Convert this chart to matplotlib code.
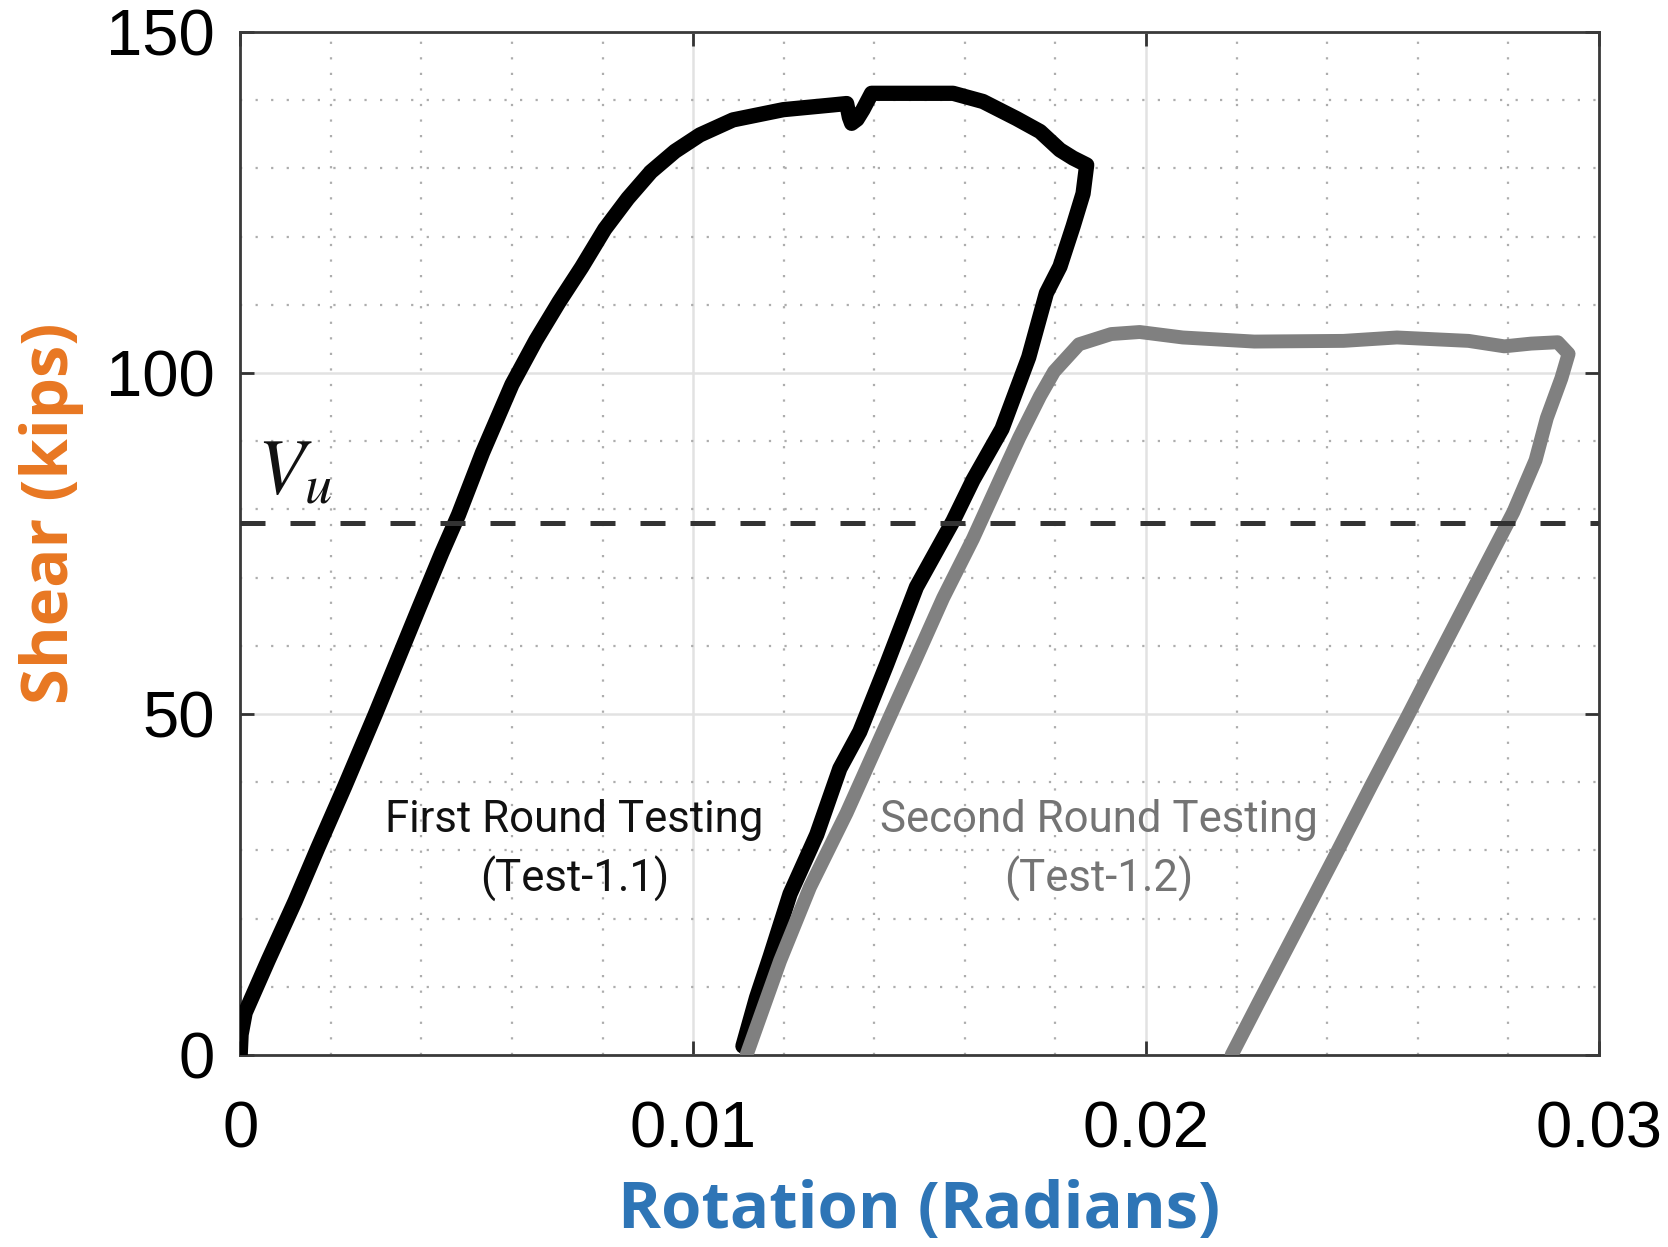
import matplotlib.pyplot as plt
from matplotlib.ticker import MultipleLocator

# Test-1.1 (first round) rotation / shear trace
rot_test11 = [0.0, 0.00002, 0.00011, 0.00062, 0.00121, 0.00171, 0.00231, 0.00298, 0.00345,
              0.00395, 0.00445, 0.00482, 0.00535, 0.00600, 0.00653, 0.00704, 0.00754, 0.00805,
              0.00856, 0.00907, 0.00960, 0.01015, 0.01088, 0.01199, 0.01309, 0.01339, 0.01345,
              0.01350, 0.01362, 0.01375, 0.01394, 0.01456, 0.01574, 0.01640, 0.01714, 0.01766,
              0.01810, 0.01839, 0.01869, 0.01861, 0.01839, 0.01810, 0.01780, 0.01741, 0.01682,
              0.01618, 0.01574, 0.01493, 0.01427, 0.01368, 0.01324, 0.01273, 0.01214, 0.01170,
              0.01140, 0.01110]
shear_test11 = [0.0, 3.0, 6.2, 13.9, 22.5, 30.3, 39.4, 49.9, 57.5,
                65.6, 73.6, 79.2, 88.3, 98.3, 104.8, 110.4, 115.5, 121.1,
                125.6, 129.5, 132.5, 134.9, 137.1, 138.6, 139.3, 139.5, 137.5,
                136.6, 137.2, 138.6, 141.0, 141.0, 141.0, 139.8, 137.3, 135.4,
                132.7, 131.5, 130.5, 126.3, 121.5, 115.6, 111.7, 102.3, 91.8,
                84.3, 78.3, 68.6, 57.2, 47.4, 42.0, 32.3, 23.6, 14.4,
                8.4, 1.3]

# Test-1.2 (second round)
rot_test12 = [0.01118, 0.01192, 0.01258, 0.01339, 0.01412, 0.01486, 0.01552, 0.01618, 0.01677,
              0.01720, 0.01766, 0.01797, 0.01852, 0.01923, 0.01986, 0.02081, 0.02239, 0.02436,
              0.02554, 0.02712, 0.02791, 0.02850, 0.02909, 0.02933, 0.02917, 0.02885, 0.02860,
              0.02811, 0.02721, 0.02632, 0.02577, 0.02498, 0.02416, 0.02321, 0.02248, 0.02189]
shear_test12 = [0.0, 13.8, 24.6, 35.5, 46.3, 57.2, 67.0, 75.7, 84.3,
                90.5, 96.6, 100.2, 104.2, 105.7, 106.0, 105.2, 104.6, 104.7,
                105.2, 104.7, 103.9, 104.3, 104.5, 102.8, 99.2, 93.4, 87.2,
                79.6, 68.1, 56.7, 49.6, 39.6, 29.0, 16.9, 7.6, 0.0]

v_u = 78.0
x_ticks = [0, 0.01, 0.02, 0.03]
x_ticklabels = ['0', '0.01', '0.02', '0.03']
y_ticks = [0, 50, 100, 150]

plt.rcParams['mathtext.fontset'] = 'stix'

fig = plt.figure(figsize=(16.68, 12.47), dpi=100)
ax = fig.add_axes([0.144, 0.154, 0.8146, 0.8204])

ax.grid(True, which='major', color='#e2e2e2', lw=1.8, ls='-')
ax.xaxis.set_minor_locator(MultipleLocator(0.002))
ax.yaxis.set_minor_locator(MultipleLocator(10))
ax.grid(True, which='minor', color='#adadad', lw=1.6, ls=(0, (1, 6)))
ax.set_axisbelow(True)

ax.plot(rot_test11, shear_test11, color='black', lw=11,
        solid_capstyle='round', solid_joinstyle='round', zorder=3)
ax.plot(rot_test12, shear_test12, color='#808080', lw=10,
        solid_capstyle='round', solid_joinstyle='round', zorder=4)
ax.axhline(v_u, color='#333333', lw=3.6, ls=(0, (5, 5)), zorder=5)

ax.text(0.00038, 82.4, r'$V_u$', fontsize=56, color='#111111', va='baseline', ha='left')

ax.text(0.00738, 30.0, 'First Round Testing\n(Test-1.1)', fontsize=31.5, family='Roboto',
        color='#111111', ha='center', va='center', linespacing=1.42)
ax.text(0.01896, 30.0, 'Second Round Testing\n(Test-1.2)', fontsize=31.5, family='Roboto',
        color='#747474', ha='center', va='center', linespacing=1.42)

ax.set_xlim(0, 0.03)
ax.set_ylim(0, 150)
ax.set_xticks(x_ticks)
ax.set_xticklabels(x_ticklabels)
ax.set_yticks(y_ticks)

ax.tick_params(which='major', direction='in', length=10, width=2, color='#333333',
               top=True, right=True, labelsize=47)
ax.tick_params(axis='x', pad=33)
ax.tick_params(axis='y', pad=18)
ax.tick_params(which='minor', length=0)
for lab in ax.get_xticklabels() + ax.get_yticklabels():
    lab.set_family('Liberation Sans')

for sp in ax.spines.values():
    sp.set_color('#3a3a3a')
    sp.set_linewidth(2)

ax.set_xlabel('Rotation (Radians)', fontsize=47, fontweight='bold', family='Open Sans',
              color='#2e75b6', labelpad=13)
ax.set_ylabel('Shear (kips)', fontsize=47, fontweight='bold', family='Open Sans',
              color='#e87722')
ax.yaxis.set_label_coords(-0.1147, 0.53)

plt.savefig('out.png', dpi=100)
